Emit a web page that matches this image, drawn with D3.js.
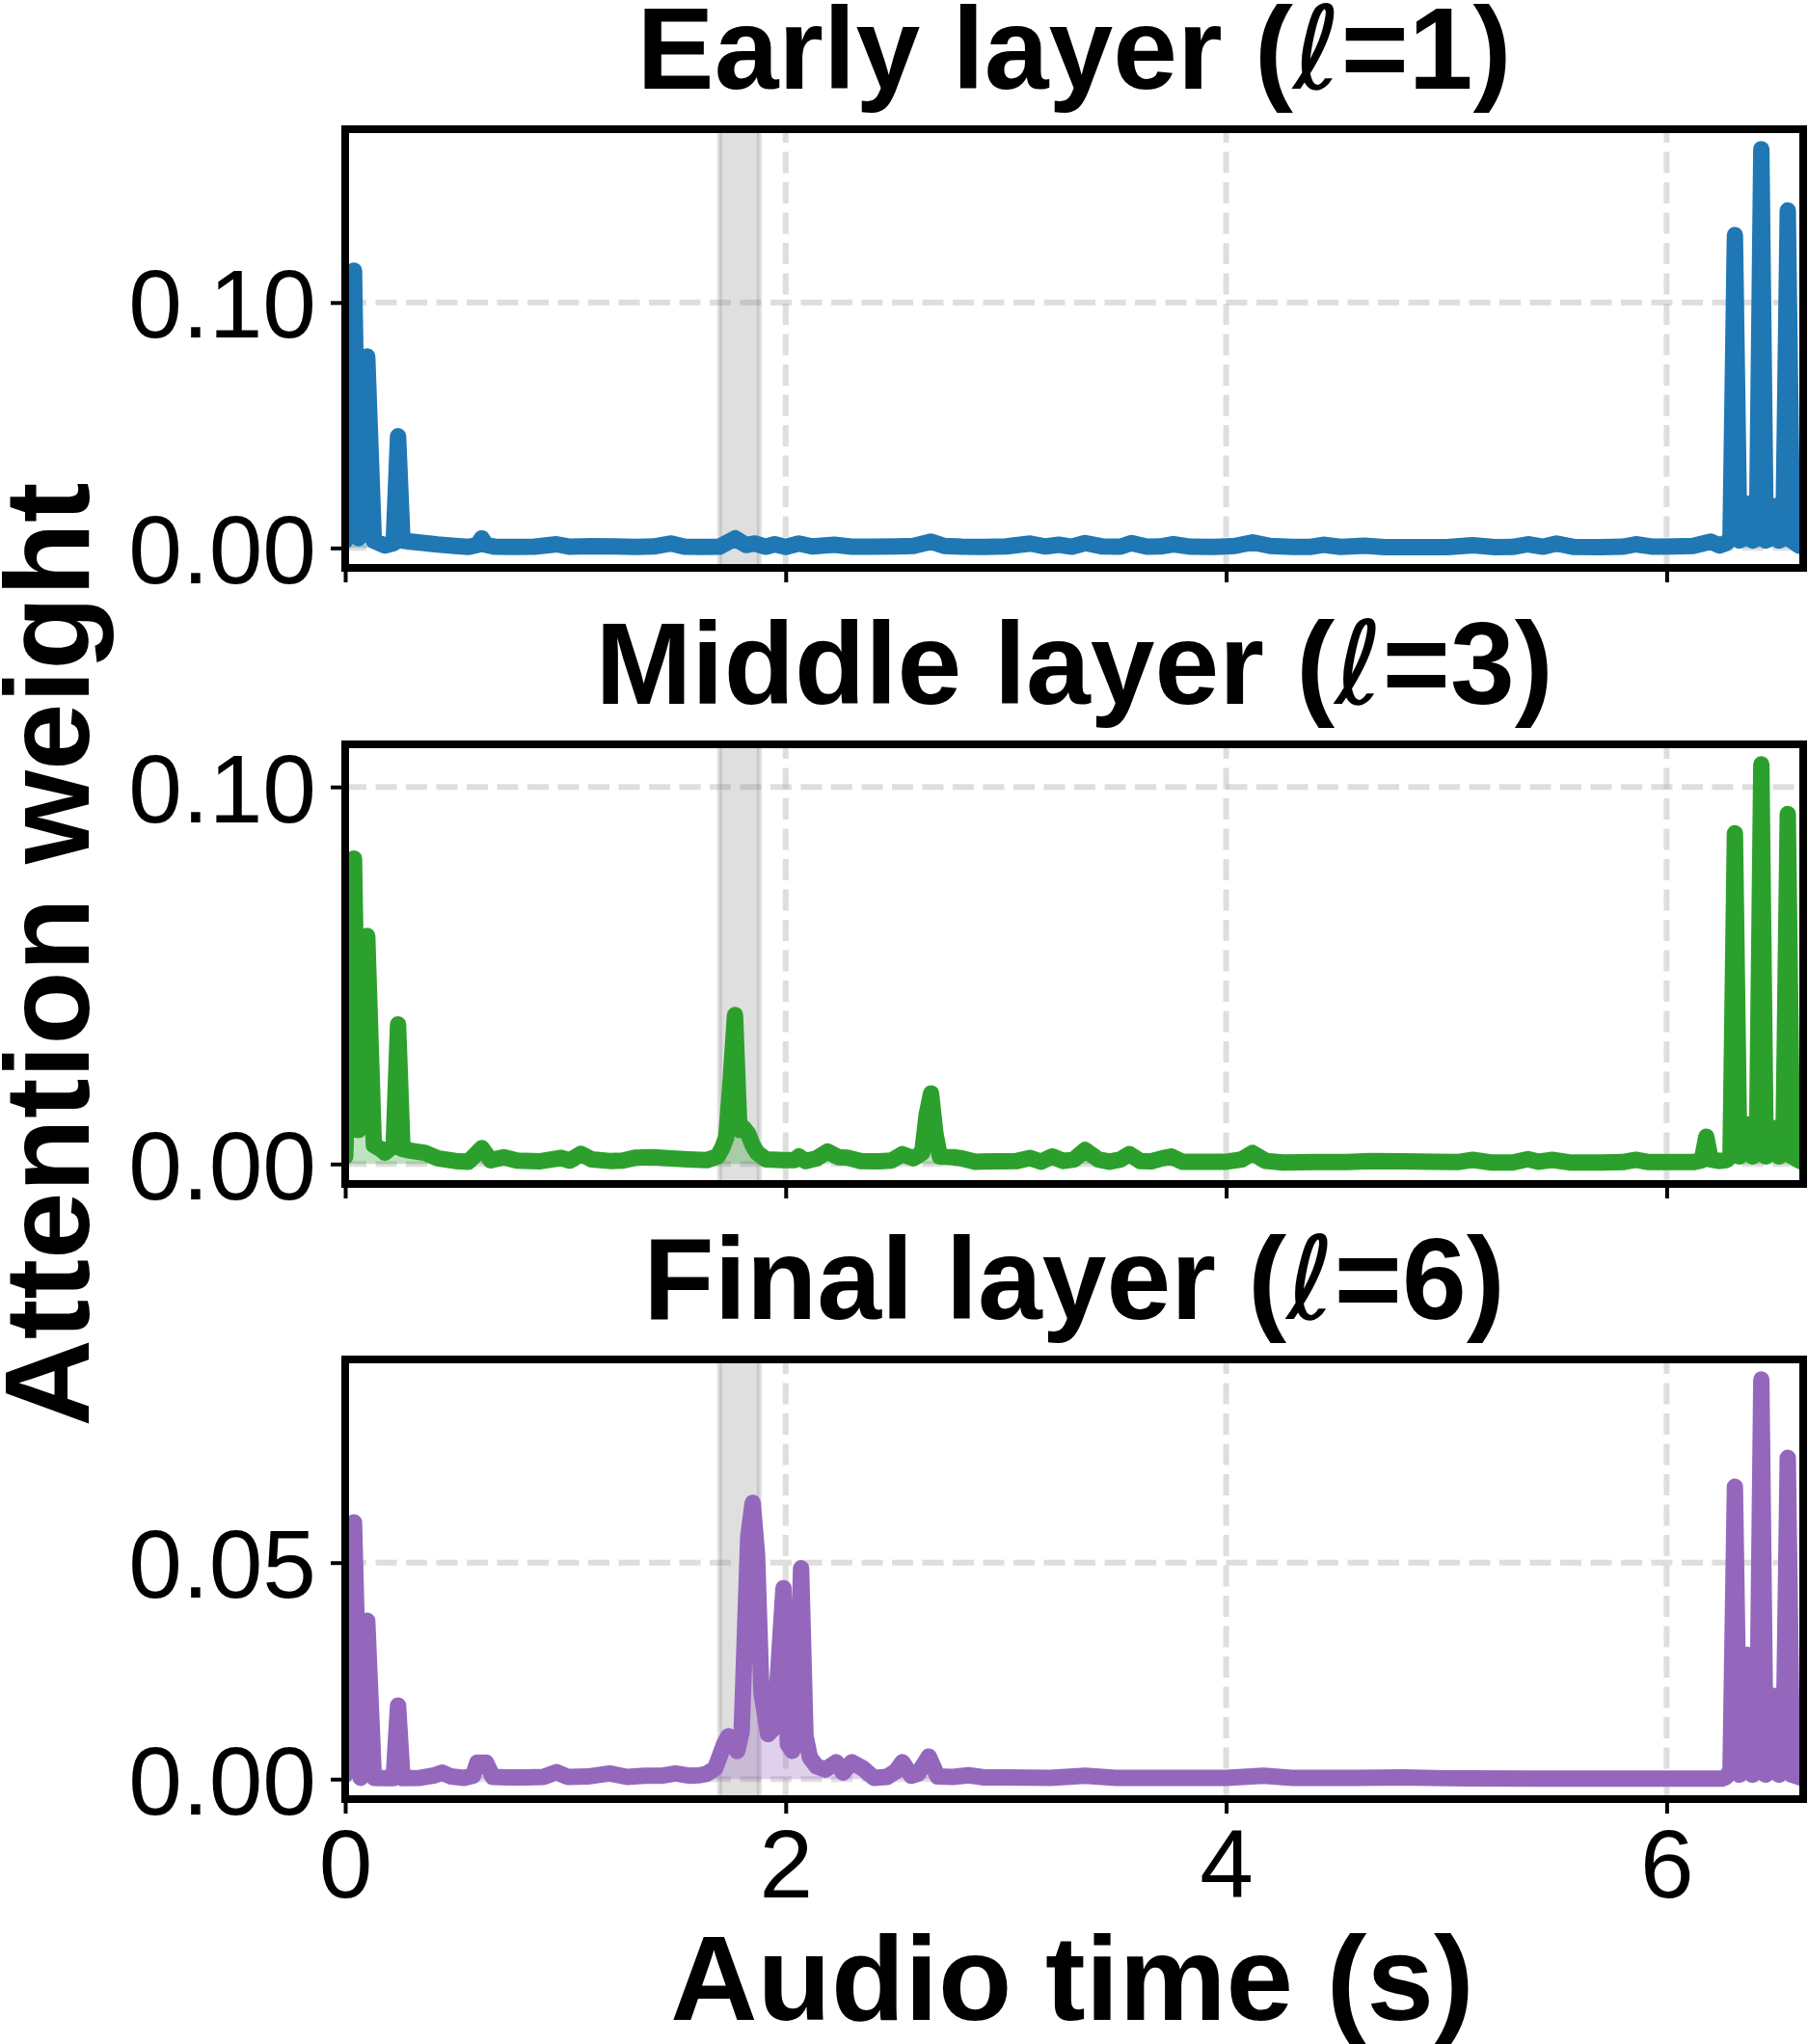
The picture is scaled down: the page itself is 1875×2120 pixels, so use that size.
<!DOCTYPE html>
<html>
<head>
<meta charset="utf-8">
<script src="https://cdn.jsdelivr.net/npm/d3@7"></script>
<style>
  body { margin: 0; background: #fff; }
  svg { display: block; }
</style>
</head>
<body>
<svg id="chart" width="1875" height="2120"></svg>
<script>
// ---------------- DATA (time in s, attention weight) ----------------
const earlyLayer = [
[0.00,0.003],[0.04,0.113],[0.06,0.004],[0.10,0.078],[0.13,0.003],[0.18,0.001],[0.22,0.002],[0.24,0.0455],[0.26,0.003],[0.34,0.0022],
[0.42,0.0014],[0.50,0.0008],[0.56,0.0004],[0.60,0.0012],[0.62,0.0039],[0.64,0.0012],[0.68,0.0005],[0.76,0.0004],[0.86,0.0005],[0.96,0.0015],
[1.02,0.0005],[1.12,0.0007],[1.22,0.0006],[1.32,0.0004],[1.40,0.0006],[1.48,0.0018],[1.54,0.0005],[1.62,0.0004],[1.70,0.0005],[1.77,0.0039],
[1.82,0.0012],[1.86,0.0018],[1.91,0.0005],[1.95,0.0015],[2.00,0.0004],[2.06,0.0018],[2.12,0.0006],[2.22,0.0013],[2.30,0.0005],[2.40,0.0005],
[2.50,0.0006],[2.58,0.0008],[2.66,0.0026],[2.72,0.0008],[2.80,0.0005],[2.90,0.0004],[3.00,0.0006],[3.11,0.0018],[3.18,0.0006],[3.24,0.0013],
[3.30,0.0005],[3.36,0.0020],[3.44,0.0006],[3.52,0.0005],[3.57,0.0020],[3.64,0.0005],[3.70,0.0006],[3.76,0.0015],[3.84,0.0005],[3.94,0.0004],
[4.04,0.0008],[4.12,0.0023],[4.20,0.0008],[4.30,0.0004],[4.38,0.0004],[4.44,0.0013],[4.52,0.0004],[4.63,0.0009],[4.72,0.0003],[4.85,0.0003],
[5.00,0.0003],[5.12,0.0011],[5.22,0.0003],[5.30,0.0004],[5.37,0.0015],[5.44,0.0005],[5.50,0.0018],[5.58,0.0004],[5.70,0.0003],[5.80,0.0005],
[5.86,0.0015],[5.94,0.0005],[6.04,0.0006],[6.12,0.0008],[6.20,0.0026],[6.24,0.0010],[6.27,0.0020],[6.29,0.0040],[6.31,0.1275],[6.33,0.0030],
[6.35,0.0040],[6.37,0.0180],[6.39,0.0030],[6.41,0.0040],[6.43,0.1625],[6.45,0.0030],[6.47,0.0040],[6.49,0.0170],[6.51,0.0030],[6.53,0.0040],
[6.55,0.1375],[6.57,0.0030],[6.60,0.0010],[6.62,0.0005]
];

const middleLayer = [
[0.00,0.002],[0.04,0.081],[0.06,0.009],[0.10,0.0605],[0.13,0.005],[0.16,0.004],[0.18,0.003],[0.22,0.005],[0.24,0.037],[0.26,0.004],
[0.30,0.0035],[0.36,0.003],[0.42,0.0015],[0.50,0.0008],[0.56,0.0006],[0.62,0.0042],[0.66,0.0010],[0.72,0.0018],[0.78,0.0009],[0.88,0.0007],
[0.98,0.0016],[1.02,0.0009],[1.07,0.0027],[1.12,0.0012],[1.20,0.0008],[1.26,0.0009],[1.32,0.0017],[1.40,0.0018],[1.48,0.0015],[1.56,0.0012],
[1.64,0.0010],[1.69,0.0020],[1.71,0.0040],[1.73,0.0070],[1.75,0.0220],[1.77,0.0395],[1.79,0.0090],[1.81,0.0095],[1.83,0.0080],[1.85,0.0050],
[1.87,0.0030],[1.91,0.0012],[1.99,0.0010],[2.04,0.0010],[2.06,0.0020],[2.09,0.0008],[2.14,0.0015],[2.19,0.0033],[2.24,0.0018],[2.28,0.0017],
[2.34,0.0008],[2.42,0.0007],[2.48,0.0009],[2.53,0.0026],[2.58,0.0015],[2.62,0.0030],[2.64,0.0130],[2.66,0.0187],[2.68,0.0080],[2.70,0.0020],
[2.76,0.0018],[2.80,0.0015],[2.86,0.0006],[2.96,0.0007],[3.05,0.0008],[3.11,0.0016],[3.16,0.0006],[3.21,0.0020],[3.26,0.0008],[3.31,0.0012],
[3.36,0.0037],[3.42,0.0012],[3.47,0.0006],[3.52,0.0012],[3.56,0.0026],[3.61,0.0008],[3.66,0.0007],[3.71,0.0015],[3.75,0.0020],[3.80,0.0006],
[3.90,0.0006],[4.00,0.0006],[4.07,0.0012],[4.12,0.0029],[4.18,0.0008],[4.26,0.0004],[4.40,0.0005],[4.55,0.0005],[4.65,0.0008],[4.80,0.0007],
[4.95,0.0006],[5.05,0.0005],[5.12,0.0011],[5.20,0.0004],[5.30,0.0004],[5.37,0.0013],[5.42,0.0006],[5.48,0.0011],[5.56,0.0004],[5.70,0.0004],
[5.80,0.0005],[5.86,0.0011],[5.92,0.0005],[6.04,0.0005],[6.12,0.0005],[6.16,0.0010],[6.18,0.0072],[6.20,0.0012],[6.24,0.0008],[6.27,0.0010],
[6.29,0.0020],[6.31,0.0877],[6.33,0.0020],[6.35,0.0030],[6.37,0.0105],[6.39,0.0020],[6.41,0.0030],[6.43,0.1060],[6.45,0.0020],[6.47,0.0030],
[6.49,0.0095],[6.51,0.0020],[6.53,0.0030],[6.55,0.0928],[6.57,0.0020],[6.60,0.0010],[6.62,0.0005]
];

const finalLayer = [
[0.00,0.001],[0.04,0.0593],[0.07,0.0003],[0.10,0.0366],[0.13,0.0003],[0.16,0.0002],[0.22,0.0002],[0.24,0.0170],[0.26,0.0002],[0.34,0.0003],
[0.40,0.0008],[0.44,0.0015],[0.48,0.0006],[0.54,0.0003],[0.58,0.0008],[0.60,0.0038],[0.64,0.0038],[0.67,0.0005],[0.74,0.0004],[0.82,0.0004],
[0.90,0.0005],[0.96,0.0016],[1.01,0.0005],[1.10,0.0006],[1.20,0.0013],[1.28,0.0005],[1.36,0.0008],[1.44,0.0008],[1.50,0.0013],[1.56,0.0008],
[1.61,0.0009],[1.64,0.0012],[1.68,0.0025],[1.72,0.0080],[1.74,0.0099],[1.76,0.0085],[1.78,0.0065],[1.80,0.0110],[1.83,0.0560],[1.85,0.0638],
[1.87,0.0520],[1.89,0.0200],[1.92,0.0104],[1.95,0.0120],[1.97,0.0280],[1.99,0.0441],[2.01,0.0080],[2.03,0.0065],[2.05,0.0100],[2.07,0.0487],
[2.09,0.0100],[2.11,0.0050],[2.14,0.0030],[2.18,0.0022],[2.23,0.0039],[2.26,0.0015],[2.30,0.0039],[2.35,0.0025],[2.40,0.0003],[2.46,0.0005],
[2.50,0.0018],[2.53,0.0039],[2.57,0.0008],[2.60,0.0012],[2.65,0.0052],[2.69,0.0006],[2.76,0.0005],[2.83,0.0009],[2.90,0.0004],[3.00,0.0004],
[3.20,0.0003],[3.36,0.0008],[3.50,0.0003],[3.80,0.0003],[4.00,0.0003],[4.17,0.0008],[4.30,0.0003],[4.60,0.0003],[4.80,0.0004],[5.00,0.0002],
[5.40,0.0001],[5.80,0.0001],[6.10,0.0001],[6.25,0.0001],[6.27,0.0005],[6.29,0.0020],[6.31,0.0675],[6.33,0.0010],[6.35,0.0020],[6.37,0.0287],
[6.39,0.0010],[6.41,0.0020],[6.43,0.0923],[6.45,0.0010],[6.47,0.0020],[6.49,0.0192],[6.51,0.0010],[6.53,0.0020],[6.55,0.0742],[6.57,0.0010],
[6.60,0.0005],[6.62,0.0002]
];

const panelTitles = ["Early layer", "Middle layer", "Final layer"];
const layerIndex = [1, 3, 6];
const seriesColors = ["#1f77b4", "#2ca02c", "#9467bd"];
const yTicksEarly = [0.00, 0.10];
const yTicksMiddle = [0.00, 0.10];
const yTicksFinal = [0.00, 0.05];
const xTicks = [0, 2, 4, 6];
const xMax = 6.62;
const highlightSpan = [1.70, 1.88];

// ---------------- LAYOUT ----------------
const FONT = "'Liberation Sans', Arial, Helvetica, sans-serif";
const svg = d3.select("#chart");
const xLeft = 358, xRight = 1870;
const panelBoxes = [[134, 589], [772, 1228], [1410, 1866]];
const seriesList = [earlyLayer, middleLayer, finalLayer];
const tickList = [yTicksEarly, yTicksMiddle, yTicksFinal];

svg.append("rect").attr("width", 1875).attr("height", 2120).attr("fill", "#fff");

const x = d3.scaleLinear().domain([0, xMax]).range([xLeft, xRight]);

seriesList.forEach((data, i) => {
  const [top, bottom] = panelBoxes[i];
  const yMax = d3.max(data, d => d[1]);
  const pad = 0.05 * yMax;
  const y = d3.scaleLinear().domain([-pad, yMax + pad]).range([bottom, top]);
  const color = seriesColors[i];

  const clipId = "clip" + i;
  svg.append("clipPath").attr("id", clipId)
    .append("rect").attr("x", xLeft).attr("y", top)
    .attr("width", xRight - xLeft).attr("height", bottom - top);

  const g = svg.append("g").attr("clip-path", `url(#${clipId})`);

  // grid
  g.selectAll(".vgrid").data(xTicks).join("line")
    .attr("x1", d => x(d)).attr("x2", d => x(d))
    .attr("y1", bottom).attr("y2", top)
    .attr("stroke", "#b0b0b0").attr("stroke-opacity", 0.42)
    .attr("stroke-width", 6).attr("stroke-dasharray", "22,9.5");
  g.selectAll(".hgrid").data(tickList[i]).join("line")
    .attr("x1", xLeft).attr("x2", xRight)
    .attr("y1", d => y(d)).attr("y2", d => y(d))
    .attr("stroke", "#b0b0b0").attr("stroke-opacity", 0.42)
    .attr("stroke-width", 6).attr("stroke-dasharray", "22,9.5");

  // highlighted span
  g.append("rect")
    .attr("x", x(highlightSpan[0])).attr("width", x(highlightSpan[1]) - x(highlightSpan[0]))
    .attr("y", top - 10).attr("height", bottom - top + 20)
    .attr("fill", "gray").attr("fill-opacity", 0.25)
    .attr("stroke", "gray").attr("stroke-opacity", 0.25).attr("stroke-width", 5);

  // area under curve
  const area = d3.area().x(d => x(d[0])).y0(y(0)).y1(d => y(d[1]));
  g.append("path").datum(data).attr("d", area)
    .attr("fill", color).attr("fill-opacity", 0.3);

  // line
  const line = d3.line().x(d => x(d[0])).y(d => y(d[1]));
  g.append("path").datum(data).attr("d", line)
    .attr("fill", "none").attr("stroke", color).attr("stroke-width", 17)
    .attr("stroke-linejoin", "round").attr("stroke-linecap", "round");

  // y axis
  const gy = svg.append("g").attr("transform", `translate(${xLeft},0)`)
    .call(d3.axisLeft(y).tickValues(tickList[i]).tickFormat(d3.format(".2f"))
      .tickSize(15).tickPadding(15));
  gy.select(".domain").remove();
  gy.attr("font-size", 100).attr("font-family", FONT);
  gy.selectAll(".tick line").attr("stroke", "#000").attr("stroke-width", 4);
  gy.selectAll(".tick text").attr("fill", "#000").attr("dy", "0.36em");

  // x axis
  const gx = svg.append("g").attr("transform", `translate(0,${bottom})`)
    .call(d3.axisBottom(x).tickValues(xTicks).tickSize(15)
      .tickFormat(i === 2 ? d3.format("d") : () => ""));
  gx.select(".domain").remove();
  gx.attr("font-size", 100).attr("font-family", FONT);
  gx.selectAll(".tick line").attr("stroke", "#000").attr("stroke-width", 4);
  gx.selectAll(".tick text").attr("fill", "#000").attr("y", 102).attr("dy", null);

  // spines
  svg.append("rect").attr("x", xLeft).attr("y", top)
    .attr("width", xRight - xLeft).attr("height", bottom - top)
    .attr("fill", "none").attr("stroke", "#000").attr("stroke-width", 8);

  // title
  const t = svg.append("text")
    .attr("x", (xLeft + xRight) / 2).attr("y", top - 42)
    .attr("text-anchor", "middle").attr("font-family", FONT)
    .attr("font-weight", "bold").attr("font-size", 120).attr("fill", "#000");
  t.append("tspan").text(panelTitles[i] + " (");
  t.append("tspan").attr("font-family", "'DejaVu Sans', sans-serif")
    .attr("font-style", "italic").attr("font-weight", "normal").text("ℓ");
  t.append("tspan").text("=" + layerIndex[i] + ")");
});

// axis labels
svg.append("text")
  .attr("transform", "translate(92,990) rotate(-90)")
  .attr("text-anchor", "middle").attr("font-family", FONT)
  .attr("font-weight", "bold").attr("font-size", 125).attr("fill", "#000")
  .text("Attention weight");

svg.append("text")
  .attr("x", 1112).attr("y", 2095)
  .attr("text-anchor", "middle").attr("font-family", FONT)
  .attr("font-weight", "bold").attr("font-size", 125).attr("fill", "#000")
  .text("Audio time (s)");
</script>
</body>
</html>
